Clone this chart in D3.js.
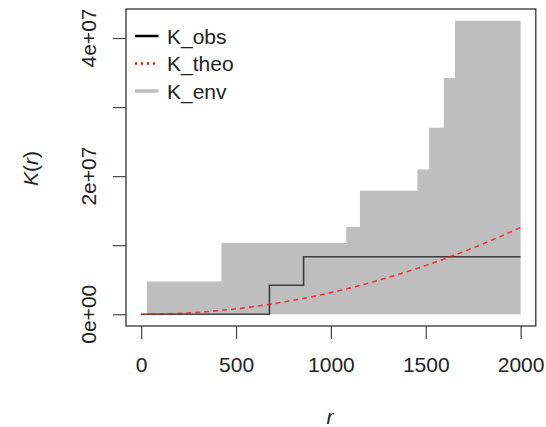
<!DOCTYPE html>
<html>
<head>
<meta charset="utf-8">
<title>K function</title>
<script src="https://d3js.org/d3.v7.min.js"></script>
<style>
  body { margin: 0; background: #fff; }
  svg text { font-family: "Liberation Sans", Arial, sans-serif; fill: #222; }
</style>
</head>
<body>
<svg width="546" height="427"></svg>
<script>
// envelope (upper bound, lower bound is 0) - step values hold until next r
var envR  = [30, 423, 1081, 1153, 1456, 1518, 1595, 1654, 2000];
var envHi = [4.73e6, 1.03e7, 1.265e7, 1.79e7, 2.095e7, 2.70e7, 3.42e7, 4.25e7, 4.25e7];

// observed K (step)
var obsR = [0, 676, 856, 2000];
var obsK = [0, 4.19e6, 8.33e6, 8.33e6];

// theoretical K
var theoR = [0, 100, 200, 300, 400, 500, 600, 700, 800, 900, 1000,
             1100, 1200, 1300, 1400, 1500, 1600, 1700, 1800, 1900, 2000];
var theoK = [0, 0.03e6, 0.13e6, 0.28e6, 0.50e6, 0.79e6, 1.13e6, 1.54e6, 2.01e6, 2.54e6, 3.14e6,
             3.80e6, 4.52e6, 5.31e6, 6.16e6, 7.07e6, 8.04e6, 9.08e6, 10.18e6, 11.34e6, 12.57e6];

var xTicks = [0, 500, 1000, 1500, 2000];
var yTicks = [0, 1e7, 2e7, 3e7, 4e7];
var yTickLabels = ["0e+00", "", "2e+07", "", "4e+07"];

var legendNames = ["K_obs", "K_theo", "K_env"];

var svg = d3.select("svg");
var plotL = 126, plotR = 535.8, plotT = 9, plotB = 326;

// R style 4% padding
var xMin = 0, xMax = 2000;
var yMin = 0, yMax = d3.max(envHi);
var xp = (xMax - xMin) * 0.04, yp = (yMax - yMin) * 0.04;

var x = d3.scaleLinear().domain([xMin - xp, xMax + xp]).range([plotL, plotR]);
var y = d3.scaleLinear().domain([yMin - yp, yMax + yp]).range([plotB, plotT]);

// envelope
var env = envR.map(function(r, i) { return [r, envHi[i]]; });
svg.append("path")
  .datum(env)
  .attr("fill", "#bebebe")
  .attr("d", d3.area()
    .curve(d3.curveStepAfter)
    .x(function(d) { return x(d[0]); })
    .y0(y(0))
    .y1(function(d) { return y(d[1]); }));

// observed
svg.append("path")
  .datum(obsR.map(function(r, i) { return [r, obsK[i]]; }))
  .attr("fill", "none")
  .attr("stroke", "#111")
  .attr("stroke-opacity", 0.75)
  .attr("stroke-width", 1.6)
  .attr("d", d3.line().curve(d3.curveStepAfter)
    .x(function(d) { return x(d[0]); })
    .y(function(d) { return y(d[1]); }));

// theoretical
svg.append("path")
  .datum(theoR.map(function(r, i) { return [r, theoK[i]]; }))
  .attr("fill", "none")
  .attr("stroke", "#ff0000")
  .attr("stroke-opacity", 0.7)
  .attr("stroke-width", 1.6)
  .attr("stroke-dasharray", "5,4")
  .attr("d", d3.line().curve(d3.curveMonotoneX)
    .x(function(d) { return x(d[0]); })
    .y(function(d) { return y(d[1]); }));

// box
svg.append("rect")
  .attr("x", plotL).attr("y", plotT)
  .attr("width", plotR - plotL).attr("height", plotB - plotT)
  .attr("fill", "none").attr("stroke", "#333").attr("stroke-width", 1.3);

// x axis
var xa = svg.append("g").attr("transform", "translate(0," + plotB + ")")
  .call(d3.axisBottom(x).tickValues(xTicks).tickSize(13).tickPadding(18).tickFormat(d3.format("d")));
xa.select(".domain").remove();
xa.selectAll("line").attr("stroke", "#444").attr("stroke-width", 1.2);
xa.selectAll("text").attr("font-size", 21).attr("fill", "#222").style("font-family", "Liberation Sans, Arial, sans-serif");

// y axis
var ya = svg.append("g").attr("transform", "translate(" + plotL + ",0)")
  .call(d3.axisLeft(y).tickValues(yTicks).tickSize(13).tickFormat(""));
ya.select(".domain").remove();
ya.selectAll("line").attr("stroke", "#444").attr("stroke-width", 1.2);

svg.append("g").selectAll("text")
  .data(yTicks.filter(function(d, i) { return yTickLabels[i] !== ""; }))
  .enter().append("text")
    .attr("transform", function(d) { return "translate(96," + y(d) + ") rotate(-90)"; })
    .attr("text-anchor", "middle")
    .attr("font-size", 21)
    .text(function(d) { return yTickLabels[yTicks.indexOf(d)]; });

// axis titles
svg.append("text")
  .attr("x", (plotL + plotR) / 2 - 1).attr("y", 424)
  .attr("text-anchor", "middle").attr("font-size", 21).attr("font-style", "italic")
  .text("r");

var yl = svg.append("text")
  .attr("transform", "translate(38," + ((plotT + plotB) / 2 + 1) + ") rotate(-90)")
  .attr("text-anchor", "middle").attr("font-size", 21);
yl.append("tspan").attr("font-style", "italic").text("K");
yl.append("tspan").text("(");
yl.append("tspan").attr("font-style", "italic").text("r");
yl.append("tspan").text(")");

// legend
var lg = svg.append("g");
var lgY = [36, 63.5, 91];
var lgStyle = [
  { stroke: "#000", width: 2.5, dash: null },
  { stroke: "#ff0000", width: 2.5, dash: "2,4" },
  { stroke: "#bebebe", width: 3.5, dash: null }
];
legendNames.forEach(function(n, i) {
  lg.append("line")
    .attr("x1", 135).attr("x2", 158.5)
    .attr("y1", lgY[i]).attr("y2", lgY[i])
    .attr("stroke", lgStyle[i].stroke)
    .attr("stroke-width", lgStyle[i].width)
    .attr("stroke-dasharray", lgStyle[i].dash);
  lg.append("text")
    .attr("x", 167).attr("y", lgY[i] + 7.5)
    .attr("font-size", 21)
    .text(n);
});
</script>
</body>
</html>
